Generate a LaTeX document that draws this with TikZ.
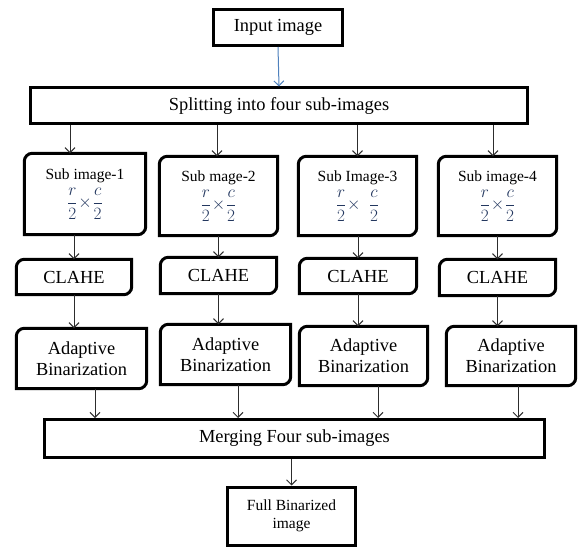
\documentclass[tikz,border=0pt]{standalone}
\usepackage{amsmath}
\usepackage{fontspec}
\setmainfont{Liberation Serif}
\usetikzlibrary{arrows.meta, calc}
\definecolor{linkblue}{RGB}{79,129,189}
\definecolor{fracnavy}{RGB}{35,55,95}
\definecolor{arrowgray}{RGB}{45,45,45}

% r/2 x c/2 size of one quarter
\newcommand{\quarterfrac}[1]{{\color{fracnavy}\fontsize{17}{17}\selectfont\nulldelimiterspace=0pt$\dfrac{r}{2}\mskip2mu{\times}\mskip#1\dfrac{c}{2}$}}

\begin{document}
\begin{tikzpicture}[x=1pt, y=-1pt,
    plainbox/.style={draw, line width=3pt, inner sep=0pt},
    softbox/.style={inner sep=0pt, align=center},
    edge/.style={line width=3pt, line join=miter},
    arr/.style={draw=arrowgray, line width=1pt, -{Straight Barb[length=5pt,width=10pt]}},
    bigtext/.style={font=\fontsize{18.4}{21}\selectfont},
    smalltext/.style={font=\fontsize{15.5}{18}\selectfont}]
  \useasboundingbox (0,0) rectangle (581,548);

  % input and splitting
  \node[plainbox, bigtext, minimum width=129, minimum height=36] (in) at (278,27.5) {Input image};
  \node[plainbox, bigtext, minimum width=497, minimum height=36] (split) at (279,106) {Splitting into four sub-images};
  \draw[arr, draw=linkblue] (in.south) -- (split.north);

  % the four sub-images
  \node[softbox, smalltext, minimum width=121, minimum height=81] (s1) at (85,194) {Sub image-1\\[4pt]\quarterfrac{2mu}};
  \node[softbox, smalltext, minimum width=118, minimum height=79] (s2) at (218.5,196) {Sub mage-2\\[4pt]\quarterfrac{2mu}};
  \node[softbox, smalltext, minimum width=118, minimum height=79] (s3) at (357.5,196) {Sub Image-3\\[4pt]\quarterfrac{10mu}};
  \node[softbox, smalltext, minimum width=118, minimum height=79] (s4) at (497.5,196) {Sub image-4\\[4pt]\quarterfrac{2mu}};

  % CLAHE row
  \node[softbox, bigtext, minimum width=115, minimum height=35] (c1) at (74,277) {CLAHE};
  \node[softbox, bigtext, minimum width=116, minimum height=36] (c2) at (218.5,275.5) {CLAHE};
  \node[softbox, bigtext, minimum width=117, minimum height=35] (c3) at (358,276) {CLAHE};
  \node[softbox, bigtext, minimum width=116, minimum height=36] (c4) at (497.5,277.5) {CLAHE};

  % binarization row
  \node[softbox, bigtext, minimum width=130, minimum height=60] (a1) at (81.5,358.5) {Adaptive\\Binarization};
  \node[softbox, bigtext, minimum width=130, minimum height=60] (a2) at (225.5,354.5) {Adaptive\\Binarization};
  \node[softbox, bigtext, minimum width=128, minimum height=59] (a3) at (363.5,356) {Adaptive\\Binarization};
  \node[softbox, bigtext, minimum width=129, minimum height=59] (a4) at (511,356) {Adaptive\\Binarization};

  % merging and result
  \node[plainbox, bigtext, minimum width=500, minimum height=38] (merge) at (294.5,438.5) {Merging Four sub-images};
  \node[plainbox, smalltext, align=center, minimum width=128, minimum height=58] (full) at (291.5,516) {Full Binarized\\image};

  % rounded top-left and bottom-right corners
  \foreach \n in {s1,s2,s3,s4,c1,c2,c3,c4,a1,a2,a3,a4}
    \draw[edge] ([yshift=-8pt]\n.north west) arc[start angle=180, end angle=90, radius=8pt]
      -- (\n.north east) -- ([yshift=8pt]\n.south east) arc[start angle=0, end angle=-90, radius=8pt]
      -- (\n.south west) -- cycle;

  % connectors
  \foreach \i/\dx in {1/-15,2/-1.5,3/0,4/-4.5}
    \draw[arr] ([xshift=\dx]s\i.north |- split.south) -- ([xshift=\dx]s\i.north);
  \foreach \i in {1,2,3,4} {
    \draw[arr] (s\i.south -| c\i.north) -- (c\i.north);
    \draw[arr] (c\i.south) -- (c\i.south |- a\i.north);
  }
  \foreach \i/\dx in {1/13.5,2/12.5,3/14.5,4/7}
    \draw[arr] ([xshift=\dx]a\i.south) -- ([xshift=\dx]a\i.south |- merge.north);
  \draw[arr] (merge.south -| full.north) -- (full.north);
\end{tikzpicture}
\end{document}
